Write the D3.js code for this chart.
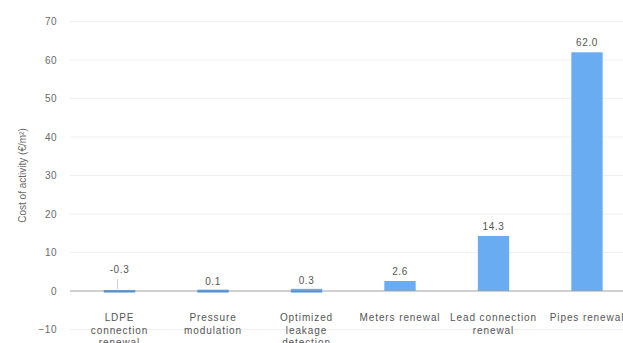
<!DOCTYPE html>
<html>
<head>
<meta charset="utf-8">
<script src="https://cdn.jsdelivr.net/npm/d3@7"></script>
<style>
  html, body { margin: 0; padding: 0; background: #fff; }
  svg { display: block; font-family: "Liberation Sans", Arial, sans-serif; }
</style>
</head>
<body>
<svg id="chart" width="623" height="343"></svg>
<script>
// Cost per activity, €/m²
const categories = [
  ["LDPE", "connection", "renewal"],
  ["Pressure", "modulation"],
  ["Optimized", "leakage", "detection"],
  ["Meters renewal"],
  ["Lead connection", "renewal"],
  ["Pipes renewal"]
];
const values = [-0.3, 0.1, 0.3, 2.6, 14.3, 62.0];
const valueLabels = ["-0.3", "0.1", "0.3", "2.6", "14.3", "62.0"];
const yTicks = [-10, 0, 10, 20, 30, 40, 50, 60, 70];

const svg = d3.select("#chart");
const keys = categories.map((c, i) => i);

const x = d3.scaleBand().domain(keys).range([72.75, 633.75]).paddingInner(0.665).paddingOuter(0.3325);
const y = d3.scaleLinear().domain([-10, 70]).range([329.5, 21.5]);

// horizontal grid
svg.append("g")
  .selectAll("line")
  .data(yTicks.filter(t => t !== 0))
  .join("line")
  .attr("x1", 70).attr("x2", 623)
  .attr("y1", d => y(d)).attr("y2", d => y(d))
  .attr("stroke", "#f0f0f0").attr("stroke-width", 1);

// y axis labels
const yAxis = svg.append("g")
  .attr("transform", "translate(57,0)")
  .call(d3.axisLeft(y).tickValues(yTicks).tickSize(0).tickPadding(0));
yAxis.select(".domain").remove();
yAxis.selectAll("text")
  .attr("fill", "#6a6a6a")
  .style("font-size", "10px")
  .style("letter-spacing", "0.5px");

// axis title
svg.append("text")
  .attr("transform", "translate(23," + y(30) + ") rotate(-90)")
  .attr("text-anchor", "middle")
  .attr("dominant-baseline", "middle")
  .attr("fill", "#6a6a6a")
  .style("font-size", "10px")
  .text("Cost of activity (€/m²)");

// bars
svg.append("g")
  .selectAll("rect")
  .data(values)
  .join("rect")
  .attr("x", (d, i) => x(i))
  .attr("width", x.bandwidth())
  .attr("y", d => Math.min(y(d), y(0)) - (Math.abs(y(d) - y(0)) < 1.5 ? 1 : 0))
  .attr("height", d => Math.max(Math.abs(y(d) - y(0)), 2))
  .attr("fill", "#69acf2");

// zero line
svg.append("line")
  .attr("x1", 70).attr("x2", 623)
  .attr("y1", y(0)).attr("y2", y(0))
  .attr("stroke", "#a0a0a0").attr("stroke-width", 1);

// redraw the near-zero bars over the baseline
svg.append("g")
  .selectAll("rect")
  .data(values.map((v, i) => ({ v, i })).filter(d => Math.abs(y(d.v) - y(0)) < 3))
  .join("rect")
  .attr("x", d => x(d.i))
  .attr("width", x.bandwidth())
  .attr("y", y(0) - 0.5)
  .attr("height", 2)
  .attr("fill", "#4f8fd6");

// value labels
const labelY = d => d < 0 ? y(0) - 18 : Math.min(y(d), y(0)) - 6;
svg.append("g")
  .selectAll("text")
  .data(values)
  .join("text")
  .attr("x", (d, i) => x(i) + x.bandwidth() / 2)
  .attr("y", labelY)
  .attr("text-anchor", "middle")
  .attr("fill", "#555")
  .style("font-size", "10px")
  .style("letter-spacing", "0.6px")
  .text((d, i) => valueLabels[i]);

// leader for negative value
svg.append("g")
  .selectAll("line")
  .data(values.map((v, i) => ({ v, i })).filter(d => d.v < 0))
  .join("line")
  .attr("x1", d => x(d.i) + x.bandwidth() / 2 - 2)
  .attr("x2", d => x(d.i) + x.bandwidth() / 2 - 2)
  .attr("y1", y(0) - 12).attr("y2", y(0) - 2)
  .attr("stroke", "#d0d0d0").attr("stroke-width", 1);

// category labels
const cat = svg.append("g")
  .selectAll("text")
  .data(categories)
  .join("text")
  .attr("x", (d, i) => x(i) + x.bandwidth() / 2)
  .attr("y", 321)
  .attr("text-anchor", "middle")
  .attr("fill", "#555")
  .style("font-size", "10px")
  .style("letter-spacing", "0.9px");
cat.selectAll("tspan")
  .data(d => d)
  .join("tspan")
  .attr("x", function () { return this.parentNode.getAttribute("x"); })
  .attr("dy", (d, j) => j === 0 ? 0 : 12.5)
  .text(d => d);
</script>
</body>
</html>
